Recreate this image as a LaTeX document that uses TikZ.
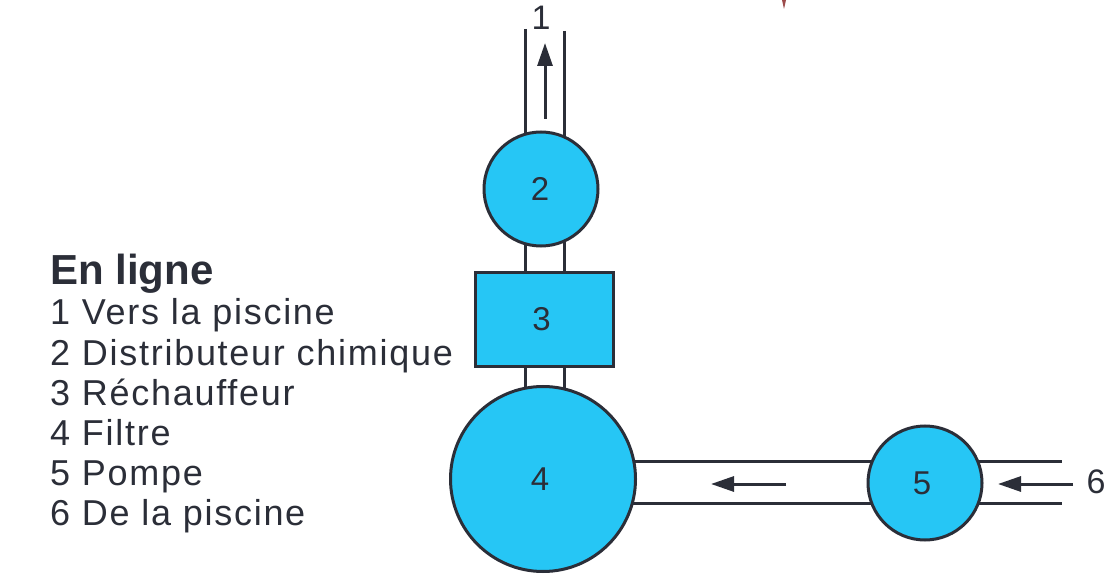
\documentclass[tikz,border=0pt]{standalone}
\usepackage{fontspec}
\setmainfont{Liberation Sans}
\newfontfamily\legendfont[LetterSpace=4.8]{Liberation Sans}
\newfontfamily\legendhead{Liberation Sans}
\usetikzlibrary{arrows.meta}
\definecolor{ink}{HTML}{2B2E38}
\definecolor{tank}{HTML}{26C6F5}
\newcommand{\shiftl}[2]{\hspace*{-#1pt}#2}
\tikzset{
  x=1pt,y=-1pt,
  pipe/.style={draw=ink,line width=3pt},
  flow/.style={draw=ink,line width=3pt,-{Triangle[length=23pt,width=15pt]}},
  tankcircle/.style={circle,draw=ink,line width=3pt,fill=tank,inner sep=0pt,font=\fontsize{33}{33}\selectfont,text=ink},
  tankbox/.style={rectangle,draw=ink,line width=3pt,fill=tank,inner sep=0pt,font=\fontsize{33}{33}\selectfont,text=ink},
  legendline/.style={anchor=base west,inner sep=0pt,text=ink,font=\legendfont\fontsize{36}{36}\selectfont},
  plainlabel/.style={inner sep=0pt,text=ink,font=\fontsize{34}{34}\selectfont}
}
\begin{document}
\begin{tikzpicture}
\useasboundingbox (0,0) rectangle (1114,577);
% coordinates
\coordinate (p1a) at (525.3,29); \coordinate (p1b) at (564.3,31);
\coordinate (p2a) at (525.3,170); \coordinate (p2b) at (564.3,170);
\coordinate (p3a) at (525.3,400); \coordinate (p3b) at (564.3,400);
\coordinate (h1a) at (620,461); \coordinate (h1b) at (880,461);
\coordinate (h2a) at (620,503); \coordinate (h2b) at (880,503);
\coordinate (h3a) at (970,461); \coordinate (h3b) at (1062,461);
\coordinate (h4a) at (970,503); \coordinate (h4b) at (1062,503);
\coordinate (a1s) at (545,119); \coordinate (a1e) at (545,43);
\coordinate (a2s) at (786,484); \coordinate (a2e) at (711,484);
\coordinate (a3s) at (1073,484); \coordinate (a3e) at (998,484);
% pipes
\draw[pipe] (p1a) -- (p2a);
\draw[pipe] (p1b) -- (p2b);
\draw[pipe] (p2a) -- (p3a);
\draw[pipe] (p2b) -- (p3b);
\draw[pipe] (h1a) -- (h1b);
\draw[pipe] (h2a) -- (h2b);
\draw[pipe] (h3a) -- (h3b);
\draw[pipe] (h4a) -- (h4b);
% tanks
\node[tankcircle,minimum size=114pt] (n2) at (541,189) {\shiftl{2}{2}};
\node[tankbox,minimum width=138pt,minimum height=94pt] (n3) at (544.5,319.5) {\shiftl{6}{3}};
\node[tankcircle,minimum size=185pt] (n4) at (543,479) {\shiftl{6}{4}};
\node[tankcircle,minimum size=114pt] (n5) at (925,483) {\shiftl{6}{5}};
% flow arrows
\draw[flow] (a1s) -- (a1e);
\draw[flow] (a2s) -- (a2e);
\draw[flow] (a3s) -- (a3e);
% outer labels
\node[plainlabel] (l1) at (541,18) {1};
\node[plainlabel] (l6) at (1096,482) {6};
% legend
\node[anchor=base west,inner sep=0pt,text=ink,font=\legendhead\bfseries\fontsize{42}{42}\selectfont] (h) at (50,285) {En ligne};
\node[legendline] (t1) at (50,325) {1 Vers la piscine};
\node[legendline] (t2) at (50,365) {2 Distributeur chimique};
\node[legendline] (t3) at (50,405) {3 Réchauffeur};
\node[legendline] (t4) at (50,445) {4 Filtre};
\node[legendline] (t5) at (50,485) {5 Pompe};
\node[legendline] (t6) at (50,525) {6 De la piscine};
% stray mark at the top edge
\fill[fill=red!45!black!70] (782,0) -- (786,0) -- (784,9) -- cycle;
\end{tikzpicture}
\end{document}
